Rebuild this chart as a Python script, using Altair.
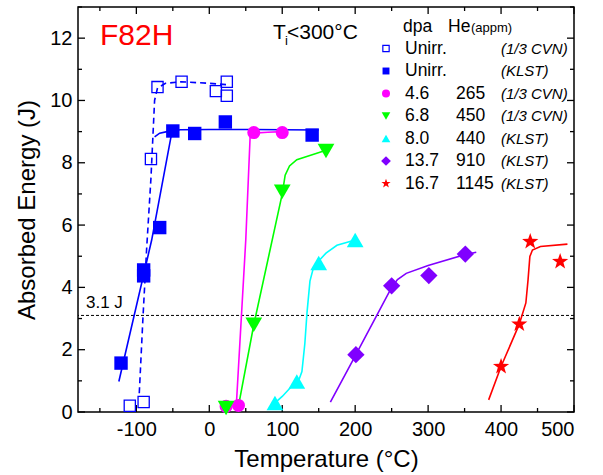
import altair as alt
import pandas as pd

# ---------------- data ----------------
series_names = ["Unirr. (1/3 CVN)", "Unirr. (KLST)", "4.6 dpa", "6.8 dpa", "8.0 dpa", "13.7 dpa", "16.7 dpa"]
series_colors = ["#0000FF", "#0000FF", "#FF00FF", "#00FF00", "#00FFFF", "#8000FF", "#FF0000"]

cvn_unirr_T = [-109, -90, -80, -71, -38, 9, 24, 24]
cvn_unirr_E = [0.20, 0.32, 8.12, 10.43, 10.60, 10.30, 10.60, 10.15]
klst_unirr_T = [-121, -90, -90, -68, -50, -20, 22, 141]
klst_unirr_E = [1.57, 4.56, 4.37, 5.92, 9.02, 8.94, 9.31, 8.89]
d46_T = [23, 40, 61, 100]
d46_E = [0.18, 0.21, 8.97, 8.97]
d68_T = [23, 61, 100, 160]
d68_E = [0.13, 2.80, 7.07, 8.38]
d80_T = [90, 120, 150, 200]
d80_E = [0.29, 0.98, 4.78, 5.52]
d137_T = [201, 250, 301, 351]
d137_E = [1.84, 4.05, 4.38, 5.07]
d167_T = [400, 425, 440, 481]
d167_E = [1.46, 2.82, 5.47, 4.83]

# fitted curves
fit_cvn_unirr_T = [-96, -91, -86, -80, -77, -75, -71, -60, -38, 0, 28]
fit_cvn_unirr_E = [0.6, 3.0, 5.2, 7.5, 9.0, 10.0, 10.4, 10.55, 10.6, 10.55, 10.5]
fit_klst_unirr_T = [-124, -79, -52, -48, -40, 0, 50, 100, 150]
fit_klst_unirr_E = [0.98, 5.52, 8.9, 9.02, 9.06, 9.07, 9.07, 9.06, 9.05]
fit_klst_shelf_T = [-75, -68, -58, -50]
fit_klst_shelf_E = [8.83, 8.95, 9.0, 9.03]
fit_d46_T = [37, 50, 56, 60, 80, 100]
fit_d46_E = [0.2, 5.52, 8.85, 8.95, 8.98, 9.0]
fit_d68_T = [39, 61, 100, 104, 110, 120, 140, 160]
fit_d68_E = [0.07, 2.8, 7.0, 7.6, 7.9, 8.1, 8.25, 8.4]
fit_d80_T = [90, 100, 112, 122, 127, 131, 134, 138, 143, 150, 160, 175, 200]
fit_d80_E = [0.29, 0.5, 0.8, 0.98, 1.3, 2.2, 3.2, 4.2, 4.65, 4.85, 5.1, 5.35, 5.52]
fit_d137_T = [166, 201, 250, 258, 270, 300, 350, 366]
fit_d137_E = [0.32, 1.84, 4.0, 4.25, 4.45, 4.7, 5.05, 5.13]
fit_d167_T = [383, 400, 425, 434, 437, 439.5, 443, 454, 491]
fit_d167_E = [0.39, 1.46, 2.82, 3.5, 4.24, 4.99, 5.2, 5.31, 5.39]

ref_energy = [3.1]

x_major = [-100, 0, 100, 200, 300, 400, 500]
x_minor = [-150, -50, 50, 150, 250, 350, 450]
y_major = [0, 2, 4, 6, 8, 10, 12]
y_minor = [1, 3, 5, 7, 9, 11, 13]

legend_col1 = ["Unirr.", "Unirr.", "4.6", "6.8", "8.0", "13.7", "16.7"]
legend_col2 = ["", "", "265", "450", "440", "910", "1145"]
legend_col3 = ["(1/3 CVN)", "(KLST)", "(1/3 CVN)", "(1/3 CVN)", "(KLST)", "(KLST)", "(KLST)"]

# ---------------- styles / layout ----------------
STAR = ("M0,-1L0.235,-0.324L0.951,-0.309L0.380,0.124L0.588,0.809L0,0.4"
        "L-0.588,0.809L-0.380,0.124L-0.951,-0.309L-0.235,-0.324Z")
shapes = ["square", "square", "circle", "triangle-down", "triangle-up", "diamond", STAR]
main_sizes = dict(zip(series_names, [125, 180, 170, 280, 280, 300, 290]))
legend_sizes = dict(zip(series_names, [40, 48, 64, 75, 75, 95, 95]))

W, H = 496, 405
XD = [-180, 500]
YD = [0, 13]
FONT = "Liberation Sans"


def px2x(px):
    return XD[0] + (px - 78) / W * (XD[1] - XD[0])


def py2y(py):
    return YD[1] - (py - 7) / H * (YD[1] - YD[0])


XS = alt.Scale(domain=XD, nice=False, zero=False)
YS = alt.Scale(domain=YD, nice=False, zero=False)
AX_X = alt.Axis(values=x_major, title="Temperature (°C)", labelExpr="'' + datum.value",
                labelFontSize=20, titleFontSize=24, labelPadding=7, titlePadding=8,
                ticks=False, domain=False, grid=False, labelFont=FONT, titleFont=FONT,
                titleFontWeight="normal", labelColor="black", titleColor="black")
AX_Y = alt.Axis(values=y_major, title="Absorbed Energy (J)", labelFontSize=20, titleFontSize=24,
                labelPadding=6, titlePadding=10, ticks=False, domain=False, grid=False,
                labelFont=FONT, titleFont=FONT, titleFontWeight="normal",
                labelColor="black", titleColor="black")


def X(f):
    return alt.X(f, type="quantitative", scale=XS, axis=AX_X)


def Y(f):
    return alt.Y(f, type="quantitative", scale=YS, axis=AX_Y)


COLOR = alt.Color("series:N", scale=alt.Scale(domain=series_names, range=series_colors), legend=None)
SHAPE = alt.Shape("series:N", scale=alt.Scale(domain=series_names, range=shapes), legend=None)

# ---------------- tables ----------------
pts = []
for name, T, E in [
    (series_names[0], cvn_unirr_T, cvn_unirr_E),
    (series_names[1], klst_unirr_T, klst_unirr_E),
    (series_names[2], d46_T, d46_E),
    (series_names[3], d68_T, d68_E),
    (series_names[4], d80_T, d80_E),
    (series_names[5], d137_T, d137_E),
    (series_names[6], d167_T, d167_E),
]:
    for t, e in zip(T, E):
        pts.append({"T": t, "E": e, "series": name, "sz": main_sizes[name]})
pts = pd.DataFrame(pts)

fits = []
for seg, (name, T, E) in enumerate([
    (series_names[1], fit_klst_unirr_T, fit_klst_unirr_E),
    (series_names[1], fit_klst_shelf_T, fit_klst_shelf_E),
    (series_names[2], fit_d46_T, fit_d46_E),
    (series_names[3], fit_d68_T, fit_d68_E),
    (series_names[4], fit_d80_T, fit_d80_E),
    (series_names[5], fit_d137_T, fit_d137_E),
    (series_names[6], fit_d167_T, fit_d167_E),
]):
    for i, (t, e) in enumerate(zip(T, E)):
        fits.append({"T": t, "E": e, "series": name, "seg": seg, "i": i})
fits = pd.DataFrame(fits)
fit_dash = pd.DataFrame({"T": fit_cvn_unirr_T, "E": fit_cvn_unirr_E,
                         "series": series_names[0], "i": range(len(fit_cvn_unirr_T))})

row_y = [48.5 + 22.5 * k for k in range(7)]
leg = pd.DataFrame({
    "series": series_names,
    "sx": [px2x(386)] * 7,
    "c1x": [px2x(405)] * 7,
    "c2x": [px2x(456)] * 7,
    "c3x": [px2x(501)] * 7,
    "ly": [py2y(v) for v in row_y],
    "c1": legend_col1, "c2": legend_col2, "c3": legend_col3,
    "sz": [legend_sizes[n] for n in series_names],
})
header = pd.DataFrame({"hx": [px2x(403), px2x(448)], "hy": [py2y(27)] * 2, "t": ["dpa", "He"]})
header2 = pd.DataFrame({"hx": [px2x(471)], "hy": [py2y(28)], "t": ["(appm)"]})

one = pd.DataFrame({"a": [0]})

# ---------------- layers ----------------
ticks_xmaj = pd.DataFrame({"v": x_major})
ticks_xmin = pd.DataFrame({"v": x_minor})
ticks_ymaj = pd.DataFrame({"v": y_major})
ticks_ymin = pd.DataFrame({"v": y_minor})

tick_layers = []
for df, L in [(ticks_xmaj, 7), (ticks_xmin, 4)]:
    tick_layers.append(alt.Chart(df).mark_rule(color="black", strokeWidth=1.3).encode(
        x=X("v"), y=alt.value(H), y2=alt.value(H - L)))
    tick_layers.append(alt.Chart(df).mark_rule(color="black", strokeWidth=1.3).encode(
        x=X("v"), y=alt.value(0), y2=alt.value(L)))
for df, L in [(ticks_ymaj, 7), (ticks_ymin, 4)]:
    tick_layers.append(alt.Chart(df).mark_rule(color="black", strokeWidth=1.3).encode(
        y=Y("v"), x=alt.value(0), x2=alt.value(L)))
    tick_layers.append(alt.Chart(df).mark_rule(color="black", strokeWidth=1.3).encode(
        y=Y("v"), x=alt.value(W), x2=alt.value(W - L)))

ref_line = alt.Chart(pd.DataFrame({"E": ref_energy})).mark_rule(
    color="black", strokeWidth=1, strokeDash=[3, 2]).encode(y=Y("E"))

solid_lines = alt.Chart(fits).mark_line(strokeWidth=1.6).encode(
    x=X("T"), y=Y("E"), color=COLOR, detail="seg:N", order="i:Q")
dashed_line = alt.Chart(fit_dash).mark_line(strokeWidth=1.6, strokeDash=[6, 4]).encode(
    x=X("T"), y=Y("E"), color=COLOR, order="i:Q")

open_pts = alt.Chart(pts[pts.series == series_names[0]]).mark_point(
    filled=False, strokeWidth=1.3, opacity=1).encode(
    x=X("T"), y=Y("E"), color=COLOR, shape=SHAPE, size=alt.Size("sz:Q", scale=None))
filled_pts = alt.Chart(pts[pts.series != series_names[0]]).mark_point(
    filled=True, opacity=1).encode(
    x=X("T"), y=Y("E"), color=COLOR, shape=SHAPE, size=alt.Size("sz:Q", scale=None))

leg_open = alt.Chart(leg[leg.series == series_names[0]]).mark_point(
    filled=False, strokeWidth=1.2, opacity=1).encode(
    x=X("sx"), y=Y("ly"), color=COLOR, shape=SHAPE, size=alt.Size("sz:Q", scale=None))
leg_filled = alt.Chart(leg[leg.series != series_names[0]]).mark_point(
    filled=True, opacity=1).encode(
    x=X("sx"), y=Y("ly"), color=COLOR, shape=SHAPE, size=alt.Size("sz:Q", scale=None))
leg_c1 = alt.Chart(leg).mark_text(align="left", baseline="middle", fontSize=17.5, font=FONT,
                                  color="black").encode(x=X("c1x"), y=Y("ly"), text="c1:N")
leg_c2 = alt.Chart(leg).mark_text(align="left", baseline="middle", fontSize=17.5, font=FONT,
                                  color="black").encode(x=X("c2x"), y=Y("ly"), text="c2:N")
leg_c3 = alt.Chart(leg).mark_text(align="left", baseline="middle", fontSize=15, font=FONT,
                                  fontStyle="italic", color="black").encode(
    x=X("c3x"), y=Y("ly"), text="c3:N")
leg_h = alt.Chart(header).mark_text(align="left", baseline="middle", fontSize=17.5, font=FONT,
                                    color="black").encode(x=X("hx"), y=Y("hy"), text="t:N")
leg_h2 = alt.Chart(header2).mark_text(align="left", baseline="middle", fontSize=13, font=FONT,
                                      color="black").encode(x=X("hx"), y=Y("hy"), text="t:N")

t_f82h = alt.Chart(one).mark_text(text="F82H", align="left", baseline="alphabetic", fontSize=30,
                                  font=FONT, color="#FF0000").encode(x=alt.value(22), y=alt.value(38))
t_T = alt.Chart(one).mark_text(text="T", align="left", baseline="alphabetic", fontSize=21,
                               font=FONT, color="black").encode(x=alt.value(195), y=alt.value(32))
t_i = alt.Chart(one).mark_text(text="i", align="left", baseline="alphabetic", fontSize=13,
                               font=FONT, color="black").encode(x=alt.value(207), y=alt.value(38))
t_rest = alt.Chart(one).mark_text(text="<300°C", align="left", baseline="alphabetic", fontSize=21,
                                  font=FONT, color="black").encode(x=alt.value(209), y=alt.value(32))
t_31 = alt.Chart(one).mark_text(text="3.1 J", align="left", baseline="alphabetic", fontSize=17,
                                font=FONT, color="black").encode(x=alt.value(8), y=alt.value(301))

chart = alt.layer(
    *tick_layers, ref_line, solid_lines, dashed_line, open_pts, filled_pts,
    leg_open, leg_filled, leg_c1, leg_c2, leg_c3, leg_h, leg_h2,
    t_f82h, t_T, t_i, t_rest, t_31,
).properties(
    width=W, height=H,
    autosize=alt.AutoSizeParams(type="none"),
    padding={"left": 78, "top": 7, "right": 29, "bottom": 63},
    background="white",
).configure_view(stroke="black", strokeWidth=1.5)

chart.save("out.html", embed_options={"renderer": "svg", "actions": False})
